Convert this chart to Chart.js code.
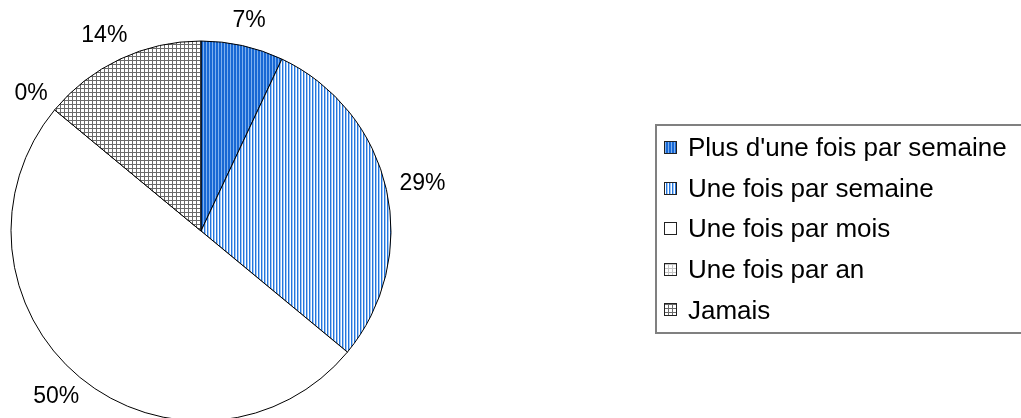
<!DOCTYPE html>
<html>
<head>
<meta charset="utf-8">
<script src="https://cdn.jsdelivr.net/npm/chart.js@4.4.0/dist/chart.umd.min.js"></script>
<style>
  html, body { margin: 0; padding: 0; background: #fff; overflow: hidden; }
  #wrap { width: 1021px; height: 440px; }
</style>
</head>
<body>
<div id="wrap"><canvas id="pieChart" width="1021" height="440"></canvas></div>
<script>
const categories = ["Plus d'une fois par semaine", "Une fois par semaine", "Une fois par mois", "Une fois par an", "Jamais"];
const percentages = [7, 29, 50, 0, 14];

// small tiled fills: stripes and grids
function makePattern(w, h, paint) {
    const c = document.createElement('canvas');
    c.width = w;
    c.height = h;
    const g = c.getContext('2d');
    paint(g);
    return g.createPattern(c, 'repeat');
}

const stripesDark = makePattern(3, 1, function (g) {
    g.fillStyle = '#1868d4'; g.fillRect(0, 0, 2, 1);
    g.fillStyle = '#7eb0ee'; g.fillRect(2, 0, 1, 1);
});
const stripesLight = makePattern(3, 1, function (g) {
    g.fillStyle = '#ffffff'; g.fillRect(0, 0, 3, 1);
    g.fillStyle = '#2476de'; g.fillRect(0, 0, 1, 1);
    g.fillStyle = '#a2c8f4'; g.fillRect(1, 0, 1, 1);
});
const gridLight = makePattern(4, 4, function (g) {
    g.fillStyle = '#ffffff'; g.fillRect(0, 0, 4, 4);
    g.fillStyle = '#c4c4c4'; g.fillRect(0, 0, 4, 1); g.fillRect(0, 0, 1, 4);
});
const gridDark = makePattern(4, 4, function (g) {
    g.fillStyle = '#ffffff'; g.fillRect(0, 0, 4, 4);
    g.fillStyle = '#6a6a6a'; g.fillRect(0, 0, 4, 1); g.fillRect(0, 0, 1, 4);
});
const fills = [stripesDark, stripesLight, '#ffffff', gridLight, gridDark];

// percentage text just outside each slice
const sliceLabels = {
    id: 'sliceLabels',
    afterDatasetsDraw(chart) {
        const ctx = chart.ctx;
        const arcs = chart.getDatasetMeta(0).data;
        ctx.save();
        ctx.font = '23px "Liberation Sans", Arial, sans-serif';
        ctx.fillStyle = '#000';
        ctx.textAlign = 'center';
        ctx.textBaseline = 'middle';
        arcs.forEach(function (arc, i) {
            const p = arc.getProps(['x', 'y', 'startAngle', 'endAngle', 'outerRadius'], true);
            const mid = (p.startAngle + p.endAngle) / 2;
            const text = percentages[i] + '%';
            const w = ctx.measureText(text).width;
            const h = 23;
            const r = p.outerRadius + 14;
            const x = p.x + Math.cos(mid) * r + Math.cos(mid) * w / 2;
            const y = p.y + Math.sin(mid) * r + Math.sin(mid) * h / 2;
            ctx.fillText(text, x, y);
        });
        ctx.restore();
    }
};

// boxed legend on the right
const boxLegend = {
    id: 'boxLegend',
    afterDraw(chart) {
        const ctx = chart.ctx;
        const left = 656, top = 125, bottom = 333;
        ctx.save();
        ctx.strokeStyle = '#808080';
        ctx.lineWidth = 2;
        ctx.strokeRect(left, top, 1040 - left, bottom - top);
        ctx.font = '26px "Liberation Sans", Arial, sans-serif';
        ctx.textBaseline = 'middle';
        ctx.textAlign = 'left';
        categories.forEach(function (label, i) {
            const cy = 148 + i * 40.6;
            ctx.fillStyle = fills[i];
            ctx.fillRect(664, Math.round(cy - 7), 13, 13);
            ctx.strokeStyle = '#222';
            ctx.lineWidth = 1;
            ctx.strokeRect(664.5, Math.round(cy - 7) + 0.5, 12, 12);
            ctx.fillStyle = '#000';
            ctx.fillText(label, 688, cy + 1);
        });
        ctx.restore();
    }
};

const pieCanvas = document.getElementById('pieChart');
new Chart(pieCanvas, {
    type: 'pie',
    data: {
        labels: categories,
        datasets: [
            {
                data: percentages,
                backgroundColor: fills,
                borderColor: '#000',
                borderWidth: 1,
            },
        ],
    },
    options: {
        responsive: false,
        animation: false,
        layout: {
            padding: { left: 10.5, top: 40.5, right: 629.5, bottom: 18.5 },
        },
        plugins: {
            legend: { display: false },
            tooltip: { enabled: false },
        },
    },
    plugins: [sliceLabels, boxLegend],
});
</script>
</body>
</html>
